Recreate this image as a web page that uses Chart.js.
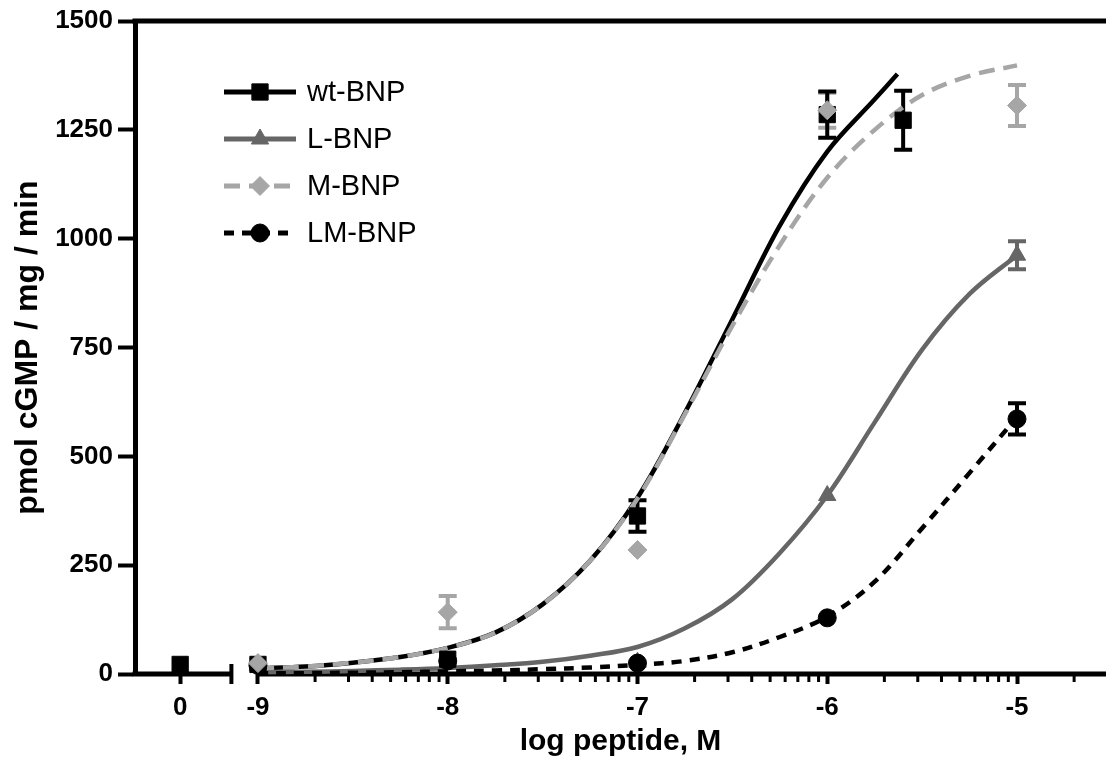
<!DOCTYPE html>
<html>
<head>
<meta charset="utf-8">
<title>cGMP response to BNP variants</title>
<script src="https://cdn.jsdelivr.net/npm/chart.js@4.4.1/dist/chart.umd.min.js"></script>
<style>
	html, body { margin: 0; padding: 0; background: #fff; }
	#wrap { width: 1106px; height: 769px; }
</style>
</head>
<body>
<div id="wrap"><canvas id="cgmpChart" width="1106" height="769"></canvas></div>
<script>
(function() {
	'use strict';

	// x axis is log[peptide]; the "0" (no peptide) group sits left of the axis break
	var CONTROL_X  = -9.41;
	var tickPos    = [CONTROL_X, -9, -8, -7, -6, -5];
	var tickLabels = ['0', '-9', '-8', '-7', '-6', '-5'];
	var yTicks     = [0, 250, 500, 750, 1000, 1250, 1500];
	var minorSteps = [2, 3, 4, 5, 6, 7, 8, 9];

	var seriesNames = ['wt-BNP', 'L-BNP', 'M-BNP', 'LM-BNP'];

	// measured points (mean +/- SEM)
	var wtDose = [CONTROL_X, -9, -8, -7, -6, -5.6];
	var wtMean = [22, 22, 34, 363, 1285, 1272];
	var wtErr  = [0, 0, 0, 36, 53, 68];

	var dose   = [-9, -8, -7, -6, -5];
	var lMean  = [20, 30, 27, 410, 962];
	var lErr   = [0, 0, 0, 0, 32];
	var mMean  = [25, 142, 285, 1295, 1306];
	var mErr   = [0, 37, 0, 40, 47];
	var lmMean = [20, 30, 25, 129, 586];
	var lmErr  = [0, 0, 0, 0, 36];

	// fitted curves
	var fitX   = [-9, -8.75, -8.5, -8.25, -8, -7.75, -7.5, -7.25, -7, -6.75, -6.5, -6.25, -6, -5.75, -5.5, -5.25, -5];
	var wtFitX = [-9, -8.75, -8.5, -8.25, -8, -7.75, -7.5, -7.25, -7, -6.75, -6.5, -6.25, -6, -5.75, -5.63];
	var wtFit  = [13, 17, 26, 39, 60, 95, 160, 260, 405, 600, 815, 1030, 1200, 1320, 1378];
	var lFit   = [4, 5, 7, 10, 14, 20, 28, 42, 62, 105, 172, 278, 410, 578, 745, 873, 962];
	var mFit   = [13, 17, 26, 39, 60, 95, 160, 260, 403, 597, 800, 985, 1140, 1250, 1330, 1374, 1398];
	var lmFit  = [2, 2, 3, 4, 6, 8, 11, 15, 21, 30, 50, 85, 132, 212, 335, 462, 590];

	var BLACK = '#000000', DARK = '#666666', LIGHT = '#a6a6a6';
	var FONT = "'Liberation Sans', Arial, Helvetica, sans-serif";

	var styles = [
		{ color: BLACK, dash: [],       point: 'rect',     radius: 11.5 },
		{ color: DARK,  dash: [],       point: 'triangle', radius: 10 },
		{ color: LIGHT, dash: [16, 9],  point: 'rectRot',  radius: 9.5 },
		{ color: BLACK, dash: [10, 8],  point: 'circle',   radius: 9 }
	];

	var pairs = function(xs, ys) {
		return xs.map(function(x, i) { return { x: x, y: ys[i] }; });
	};

	var fitSet = function(idx, xs, ys, order) {
		var s = styles[idx];
		return {
			label: seriesNames[idx] + ' fit',
			data: pairs(xs, ys),
			showLine: true,
			borderColor: s.color,
			borderWidth: 4.5,
			borderDash: s.dash,
			tension: 0.35,
			pointRadius: 0,
			fill: false,
			clip: false,
			order: order
		};
	};

	var pointSet = function(idx, xs, ys, errs, order) {
		var s = styles[idx];
		return {
			label: seriesNames[idx],
			data: pairs(xs, ys),
			errors: errs,
			showLine: false,
			pointStyle: s.point,
			pointRadius: s.radius,
			pointBackgroundColor: s.color,
			pointBorderColor: s.color,
			pointBorderWidth: 1,
			clip: false,
			order: order
		};
	};

	var drawMarker = function(ctx, s, x, y) {
		ctx.fillStyle = s.color;
		ctx.strokeStyle = s.color;
		ctx.lineWidth = 1;
		ctx.setLineDash([]);
		if (Chart.helpers && Chart.helpers.drawPoint) {
			Chart.helpers.drawPoint(ctx, { pointStyle: s.point, radius: s.radius, rotation: 0, borderWidth: 1 }, x, y);
		} else {
			ctx.beginPath();
			ctx.arc(x, y, s.radius, 0, Math.PI * 2);
			ctx.fill();
		}
	};

	// error bars under the markers
	var errorBars = {
		id: 'errorBars',
		beforeDatasetsDraw: function(chart) {
			var ctx = chart.ctx, ys = chart.scales.y, xs = chart.scales.x;
			ctx.save();
			chart.data.datasets.forEach(function(ds) {
				if (!ds.errors) { return; }
				ds.data.forEach(function(p, i) {
					var e = ds.errors[i];
					if (!e) { return; }
					var px = xs.getPixelForValue(p.x);
					var top = ys.getPixelForValue(p.y + e);
					var bot = ys.getPixelForValue(p.y - e);
					ctx.strokeStyle = ds.pointBorderColor;
					ctx.lineWidth = 4;
					ctx.setLineDash([]);
					ctx.beginPath();
					ctx.moveTo(px, top); ctx.lineTo(px, bot);
					ctx.moveTo(px - 9, top); ctx.lineTo(px + 9, top);
					ctx.moveTo(px - 9, bot); ctx.lineTo(px + 9, bot);
					ctx.stroke();
				});
			});
			ctx.restore();
		}
	};

	// x axis with a break between the "0" group and the log range, plus minor log ticks
	var brokenAxis = {
		id: 'brokenAxis',
		beforeDatasetsDraw: function(chart) {
			var ctx = chart.ctx, xs = chart.scales.x, a = chart.chartArea;
			var yAx = a.bottom;
			var breakEnd = xs.getPixelForValue(-9.14);
			var restart = xs.getPixelForValue(-9.01);
			ctx.save();
			ctx.strokeStyle = '#000';
			ctx.setLineDash([]);
			ctx.lineWidth = 5;
			ctx.beginPath();
			ctx.moveTo(a.left - 2.5, yAx); ctx.lineTo(breakEnd, yAx);
			ctx.moveTo(restart, yAx); ctx.lineTo(a.right, yAx);
			// top frame line
			ctx.moveTo(a.left - 2.5, a.top); ctx.lineTo(a.right, a.top);
			ctx.stroke();
			ctx.lineWidth = 4;
			ctx.beginPath();
			ctx.moveTo(breakEnd, yAx - 10); ctx.lineTo(breakEnd, yAx + 10);
			ctx.stroke();
			ctx.lineWidth = 3;
			ctx.beginPath();
			for (var d = -9; d < xs.max; d++) {
				minorSteps.forEach(function(k) {
					var v = d + Math.log10(k);
					if (v > xs.max) { return; }
					var px = xs.getPixelForValue(v);
					ctx.moveTo(px, yAx); ctx.lineTo(px, yAx + 8);
				});
			}
			ctx.stroke();
			ctx.restore();
		}
	};

	var lineLegend = {
		id: 'lineLegend',
		afterDraw: function(chart) {
			var ctx = chart.ctx, a = chart.chartArea;
			var x0 = a.left + 89, x1 = a.left + 161, y0 = a.top + 71;
			ctx.save();
			seriesNames.forEach(function(name, i) {
				var s = styles[i], y = y0 + i * 47;
				ctx.strokeStyle = s.color;
				ctx.lineWidth = 5;
				ctx.setLineDash(s.dash);
				ctx.beginPath();
				ctx.moveTo(x0, y); ctx.lineTo(x1, y);
				ctx.stroke();
				drawMarker(ctx, s, (x0 + x1) / 2, y);
				ctx.fillStyle = '#000';
				ctx.font = '29px ' + FONT;
				ctx.textBaseline = 'middle';
				ctx.textAlign = 'left';
				ctx.fillText(name, x1 + 11, y + 1);
			});
			ctx.restore();
		}
	};

	var canvas = document.getElementById('cgmpChart');
	if (!canvas) { console.warn('canvas #cgmpChart not found'); return; }
	if (typeof Chart === 'undefined') { console.warn('Chart.js not loaded'); return; }

	new Chart(canvas.getContext('2d'), {
		type: 'scatter',
		data: {
			datasets: [
				pointSet(2, dose, mMean, mErr, 1),
				pointSet(0, wtDose, wtMean, wtErr, 2),
				pointSet(3, dose, lmMean, lmErr, 3),
				pointSet(1, dose, lMean, lErr, 4),
				fitSet(3, fitX, lmFit, 5),
				fitSet(2, fitX, mFit, 6),
				fitSet(1, fitX, lFit, 7),
				fitSet(0, wtFitX, wtFit, 8)
			]
		},
		options: {
			responsive: false,
			devicePixelRatio: 1,
			animation: false,
			layout: { autoPadding: false, padding: { top: 21, right: 0, left: 0, bottom: 0 } },
			plugins: {
				legend: { display: false },
				tooltip: { enabled: false }
			},
			scales: {
				x: {
					type: 'linear',
					min: -9.648,
					max: -4.531,
					afterFit: function(scale) { scale.height = 95; },
					afterBuildTicks: function(scale) {
						scale.ticks = tickPos.map(function(v) { return { value: v }; });
					},
					border: { display: false },
					grid: { display: true, drawOnChartArea: false, tickLength: 10, tickWidth: 4, tickColor: '#000' },
					ticks: {
						autoSkip: false,
						maxRotation: 0,
						padding: 8,
						color: '#000',
						font: { family: FONT, size: 26, weight: 'bold' },
						callback: function(v, i) { return tickLabels[i]; }
					},
					title: {
						display: true,
						text: 'log peptide, M',
						color: '#000',
						font: { family: FONT, size: 30, weight: 'bold' },
						padding: { top: 0, bottom: 9 }
					}
				},
				y: {
					min: 0,
					max: 1500,
					afterFit: function(scale) { scale.width = 135; },
					afterBuildTicks: function(scale) {
						scale.ticks = yTicks.map(function(v) { return { value: v }; });
					},
					border: { display: true, width: 5, color: '#000' },
					grid: { display: true, drawOnChartArea: false, tickLength: 17, tickWidth: 4, tickColor: '#000' },
					ticks: {
						padding: 5,
						color: '#000',
						font: { family: FONT, size: 26, weight: 'bold' },
						callback: function(v) { return String(v); }
					},
					title: {
						display: true,
						text: 'pmol cGMP / mg / min',
						color: '#000',
						font: { family: FONT, size: 32, weight: 'bold' },
						padding: { top: 9, bottom: 0 }
					}
				}
			}
		},
		plugins: [brokenAxis, errorBars, lineLegend]
	});
})();
</script>
</body>
</html>
